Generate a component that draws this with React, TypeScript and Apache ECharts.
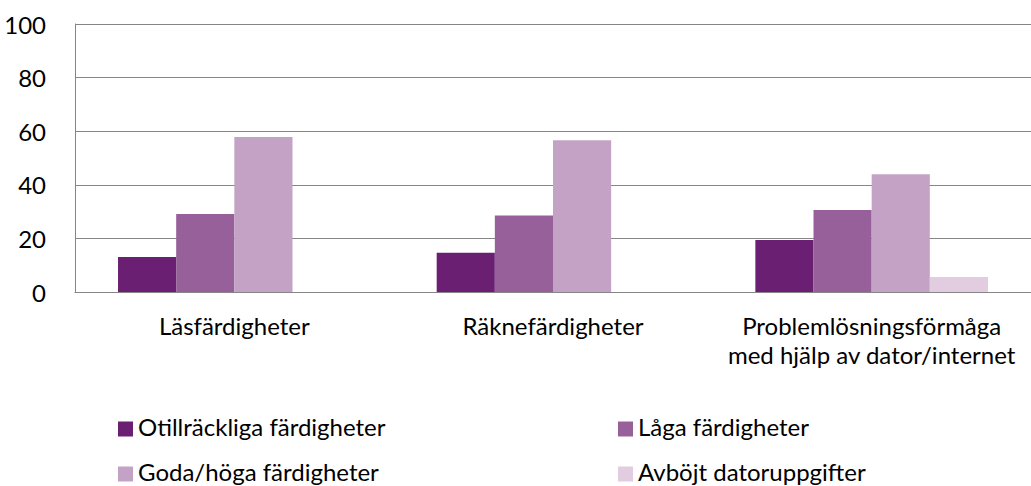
import React, { useEffect, useRef } from "react";
import * as echarts from "echarts";

const categories = [
  "Läsfärdigheter",
  "Räknefärdigheter",
  "Problemlösningsförmåga\nmed hjälp av dator/internet",
];
const seriesNames = [
  "Otillräckliga färdigheter",
  "Låga färdigheter",
  "Goda/höga färdigheter",
  "Avböjt datoruppgifter",
];
const otillrackliga = [13.1, 14.6, 19.4];
const laga = [29.1, 28.5, 30.6];
const goda = [57.8, 56.6, 43.9];
const avbojt = [null, null, 5.6];
const colors = ["#6B1F72", "#98609A", "#C4A2C5", "#E2CCE0"];
const yTicks = [0, 20, 40, 60, 80, 100];

const FONT = "Lato, 'Open Sans', sans-serif";
// square marker sitting slightly below the centre of its box, to line up with the text
const LEGEND_ICON = "path://M0,-6L0,-6 M0,0L15,0L15,15L0,15Z";

export default function App() {
  const ref = useRef<HTMLDivElement>(null);
  useEffect(() => {
    if (!ref.current) return;
    const chart = echarts.init(ref.current, undefined, { renderer: "svg" });
    const values = [otillrackliga, laga, goda, avbojt];
    const legendPos = [
      { left: 118, top: 414 },
      { left: 618, top: 414 },
      { left: 118, top: 459 },
      { left: 618, top: 459 },
    ];
    chart.setOption({
      animation: false,
      color: colors,
      grid: { left: 75, right: 0, top: 24, bottom: 194, containLabel: false },
      legend: seriesNames.map((n, i) => ({
        data: [n],
        left: legendPos[i].left,
        top: legendPos[i].top,
        icon: LEGEND_ICON,
        itemWidth: 15,
        itemHeight: 21,
        itemGap: 0,
        padding: 0,
        selectedMode: false,
        textStyle: {
          fontFamily: FONT,
          fontSize: 24,
          color: "#000",
        },
      })),
      xAxis: {
        type: "category",
        data: categories,
        axisLine: { show: true, lineStyle: { color: "#868686", width: 1 } },
        axisTick: { show: false },
        axisLabel: {
          fontFamily: FONT,
          fontSize: 24,
          color: "#000",
          margin: 19,
          lineHeight: 29,
          interval: 0,
        },
      },
      yAxis: {
        type: "value",
        min: 0,
        max: yTicks[yTicks.length - 1],
        interval: yTicks[1] - yTicks[0],
        axisLine: { show: true, lineStyle: { color: "#868686", width: 1 } },
        axisTick: { show: false },
        splitLine: { lineStyle: { color: "#868686", width: 1 } },
        axisLabel: {
          fontFamily: FONT,
          fontSize: 24,
          color: "#000",
          margin: 29,
        },
      },
      series: seriesNames.map((n, i) => ({
        name: n,
        type: "bar",
        data: values[i],
        barGap: "0%",
        barCategoryGap: "27%",
        itemStyle: { color: colors[i] },
      })),
    });
    return () => chart.dispose();
  }, []);
  return (
    <div
      ref={ref}
      style={{ position: "fixed", left: 0, top: 0, width: 1031, height: 486, background: "#fff" }}
    />
  );
}
